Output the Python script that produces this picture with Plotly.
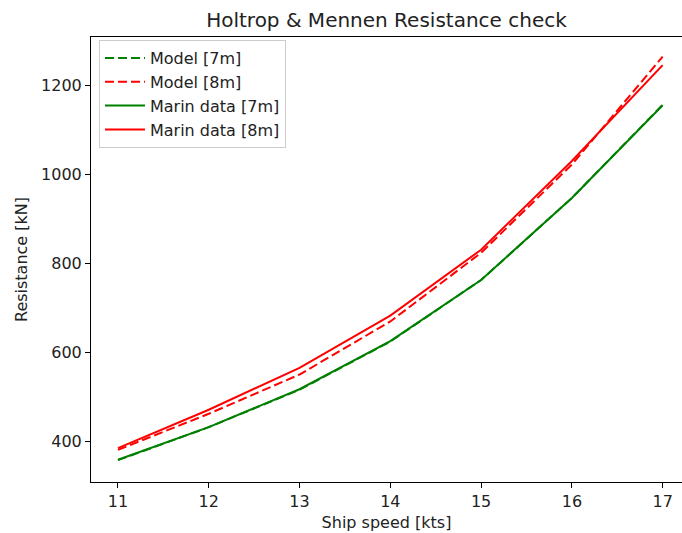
import plotly.graph_objects as go

# Ship speed [kts]
speed = [11, 12, 13, 14, 15, 16, 17]

# Resistance [kN]
model_7m = [359, 433, 517, 625, 763, 947, 1156]
model_8m = [382, 463, 551, 670, 824, 1022, 1264]
marin_7m = [360, 433, 518, 626, 763, 947, 1155]
marin_8m = [386, 472, 566, 683, 831, 1030, 1245]

FONT = "DejaVu Sans"

fig = go.Figure()
series = [
    ("Model [7m]", model_7m, "green", "dash"),
    ("Model [8m]", model_8m, "red", "dash"),
    ("Marin data [7m]", marin_7m, "green", "solid"),
    ("Marin data [8m]", marin_8m, "red", "solid"),
]
for name, vals, color, dash in series:
    fig.add_trace(go.Scatter(
        x=speed, y=vals, name=name, mode="lines",
        line=dict(color=color, width=2, dash="9px,4px" if dash == "dash" else "solid"),
    ))

fig.update_layout(
    width=682, height=533,
    margin=dict(l=91, r=0, t=37, b=51),
    plot_bgcolor="white", paper_bgcolor="white",
    font=dict(family=FONT, size=16, color="#222222"),
    title=dict(text="Holtrop & Mennen Resistance check", x=0.5, xref="paper",
               y=1 - 20 / 533, yanchor="middle", font=dict(size=20)),
    showlegend=True,
    legend=dict(x=0.0135, y=0.993, xanchor="left", yanchor="top",
                bgcolor="white", bordercolor="#cccccc", borderwidth=1,
                font=dict(size=16), tracegroupgap=0, itemwidth=40),
    xaxis=dict(range=[10.703, 17.213], tickvals=speed, showgrid=False, zeroline=False,
               showline=True, linecolor="black", linewidth=1, mirror=True,
               ticks="outside", ticklen=5, tickcolor="black", tickfont=dict(size=16),
               title=dict(text="Ship speed [kts]", standoff=6, font=dict(size=16))),
    yaxis=dict(range=[310, 1308], tickvals=[400, 600, 800, 1000, 1200], showgrid=False,
               zeroline=False, showline=True, linecolor="black", linewidth=1, mirror=False,
               ticks="outside", ticklen=5, tickcolor="black", tickfont=dict(size=16),
               title=dict(text="Resistance [kN]", standoff=9, font=dict(size=16))),
)

fig.write_html("out.html")
